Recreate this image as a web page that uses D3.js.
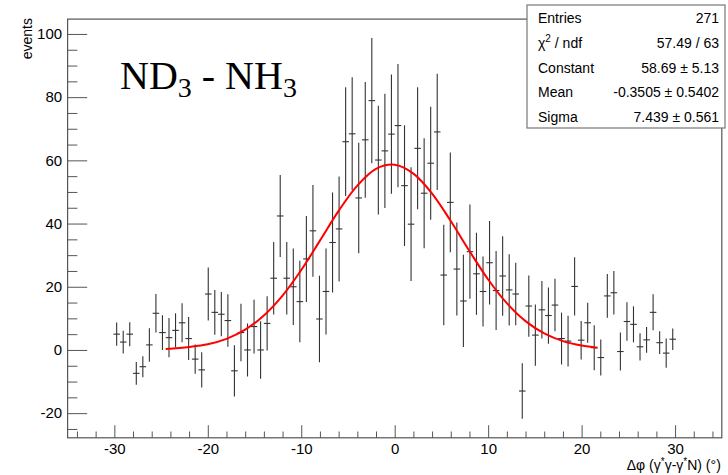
<!DOCTYPE html>
<html>
<head>
<meta charset="utf-8">
<script src="https://cdn.jsdelivr.net/npm/d3@7"></script>
<style>
  html, body { margin: 0; padding: 0; background: #fff; }
  svg { display: block; }
  text { font-family: "Liberation Sans", Arial, Helvetica, sans-serif; fill: #000; }
</style>
</head>
<body>
<svg id="chart" width="728" height="475"></svg>
<script>
// ---- data ----
const binCenters = [-29.75,-29.05,-28.35,-27.65,-26.95,-26.25,-25.55,-24.85,-24.15,-23.45,
  -22.75,-22.05,-21.35,-20.65,-19.95,-19.25,-18.55,-17.85,-17.15,-16.45,
  -15.75,-15.05,-14.35,-13.65,-12.95,-12.25,-11.55,-10.85,-10.15,-9.45,
  -8.75,-8.05,-7.35,-6.65,-5.95,-5.25,-4.55,-3.85,-3.15,-2.45,
  -1.75,-1.05,-0.35,0.35,1.05,1.75,2.45,3.15,3.85,4.55,
  5.25,5.95,6.65,7.35,8.05,8.75,9.45,10.15,10.85,11.55,
  12.25,12.95,13.65,14.35,15.05,15.75,16.45,17.15,17.85,18.55,
  19.25,19.95,20.65,21.35,22.05,22.75,23.45,24.15,24.85,25.55,
  26.25,26.95,27.65,28.35,29.05,29.75];
const binWidth = 0.7;
const events = [5.0,2.5,5.0,-7.4,-5.3,1.6,11.6,5.5,3.9,6.2,
  8.6,3.6,-2.9,-6.3,17.7,11.9,11.3,9.3,-6.6,5.5,
  0.0,7.4,0.0,8.4,22.7,42.4,22.7,20.0,15.3,28.8,
  37.7,9.8,18.5,34.0,38.3,65.9,68.4,48.1,66.5,78.9,
  60.1,63.0,68.3,71.0,52.0,39.8,63.8,49.6,59.1,69.0,
  23.7,46.7,25.6,15.5,31.1,24.1,18.5,27.6,18.8,23.4,
  19.0,17.7,-13.0,13.9,4.7,12.7,10.9,14.2,3.6,2.8,
  20.1,3.1,8.6,0.7,-2.4,17.1,18.1,-0.5,9.0,8.1,
  1.0,3.2,11.9,2.3,-1.0,3.4];
const errors = [3.7,3.6,3.8,3.6,3.3,5.3,6.1,5.5,6.2,5.4,
  6.2,6.8,4.6,5.6,8.4,7.1,7.0,8.3,8.1,9.1,
  8.4,8.5,9.1,8.6,11.5,13.0,11.5,12.1,12.9,13.6,
  14.5,13.7,13.6,15.8,16.6,17.2,17.9,17.5,18.3,19.8,
  17.2,18.1,18.9,19.5,19.1,18.0,19.3,17.4,17.9,18.4,
  15.9,15.8,14.7,14.6,14.9,13.0,11.1,13.2,12.5,12.6,
  11.3,9.9,8.8,9.7,9.7,9.1,8.9,8.3,8.2,8.0,
  9.2,6.1,6.3,7.1,5.7,6.9,6.9,6.0,6.1,5.7,
  4.3,4.1,5.7,3.6,4.6,3.4];
const fitX = [-24.5,-22,-20,-18,-16,-14,-12,-10,-8,-6,-4,-2,0,2,4,6,8,10,12,14,16,18,20,21.7];
const fitY = [0.30,0.94,1.80,3.52,6.42,10.9,17.2,25.3,34.6,44.0,52.0,57.3,58.6,55.8,49.5,40.8,31.3,22.3,14.8,9.13,5.24,2.80,1.39,0.73];

const xMajorTicks = [-30,-20,-10,0,10,20,30];
const xMinorTicks = [-34,-32,-28,-26,-24,-22,-18,-16,-14,-12,-8,-6,-4,-2,2,4,6,8,12,14,16,18,22,24,26,28,32,34];
const yMajorTicks = [-20,0,20,40,60,80,100];
const yMinorTicks = [-25,-15,-10,-5,5,10,15,25,30,35,45,50,55,65,70,75,85,90,95];

const statsRows = [
  ["Entries", "271"],
  ["chi2", "57.49 / 63"],
  ["Constant", "58.69 \u00b1 5.13"],
  ["Mean", "-0.3505 \u00b1 0.5402"],
  ["Sigma", "7.439 \u00b1 0.561"]
];

// ---- layout ----
const W = 728, H = 475;
const fx0 = 67.6, fx1 = 721.8, fy0 = 19.1, fy1 = 437.8;
const svg = d3.select("#chart");
svg.append("rect").attr("width", W).attr("height", H).attr("fill", "#fff");

const x = d3.scaleLinear().domain([-35, 35]).range([fx0, fx1]);
const y = d3.scaleLinear().domain([-27.8, 104.7]).range([fy1, fy0]);

const fmt = d => String(d);

function styleTicks(g) {
  g.select(".domain").remove();
  g.selectAll(".tick line").attr("stroke", "#555").attr("stroke-width", 1);
}
svg.append("g").attr("transform", `translate(0,${fy1})`)
  .call(d3.axisTop(x).tickValues(xMajorTicks).tickSize(12.6).tickFormat(""))
  .call(styleTicks);
svg.append("g").attr("transform", `translate(0,${fy1})`)
  .call(d3.axisTop(x).tickValues(xMinorTicks).tickSize(6.3).tickFormat(""))
  .call(styleTicks);
const xLab = svg.append("g").attr("transform", `translate(0,${fy1})`)
  .call(d3.axisBottom(x).tickValues(xMajorTicks).tickSize(0).tickPadding(5.5).tickFormat(fmt));
xLab.select(".domain").remove();
xLab.selectAll("text").attr("font-size", 15).attr("font-family", "Liberation Sans, Arial, sans-serif").attr("fill", "#000");

svg.append("g").attr("transform", `translate(${fx0},0)`)
  .call(d3.axisRight(y).tickValues(yMajorTicks).tickSize(19.6).tickFormat(""))
  .call(styleTicks);
svg.append("g").attr("transform", `translate(${fx0},0)`)
  .call(d3.axisRight(y).tickValues(yMinorTicks).tickSize(9.8).tickFormat(""))
  .call(styleTicks);
const yLab = svg.append("g").attr("transform", `translate(${fx0},0)`)
  .call(d3.axisLeft(y).tickValues(yMajorTicks).tickSize(0).tickPadding(5.5).tickFormat(fmt));
yLab.select(".domain").remove();
yLab.selectAll("text").attr("font-size", 15).attr("font-family", "Liberation Sans, Arial, sans-serif").attr("fill", "#000");

// frame
svg.append("rect").attr("x", fx0).attr("y", fy0).attr("width", fx1 - fx0).attr("height", fy1 - fy0)
  .attr("fill", "none").attr("stroke", "#555").attr("stroke-width", 1.2);

// data points with error bars
const pts = binCenters.map((c, i) => ({ c, v: events[i], e: errors[i] }));
const gp = svg.append("g").attr("stroke", "#333").attr("stroke-width", 1.1);
gp.selectAll("line.v").data(pts).join("line").attr("class", "v")
  .attr("x1", d => x(d.c)).attr("x2", d => x(d.c))
  .attr("y1", d => y(d.v + d.e)).attr("y2", d => y(d.v - d.e));
gp.selectAll("line.h").data(pts).join("line").attr("class", "h")
  .attr("x1", d => x(d.c - binWidth / 2)).attr("x2", d => x(d.c + binWidth / 2))
  .attr("y1", d => y(d.v)).attr("y2", d => y(d.v));

// fit curve
const fitPts = fitX.map((v, i) => [v, fitY[i]]);
svg.append("path").datum(fitPts)
  .attr("d", d3.line().x(d => x(d[0])).y(d => y(d[1])).curve(d3.curveCatmullRom))
  .attr("fill", "none").attr("stroke", "#f00").attr("stroke-width", 2);

// axis titles
svg.append("text").attr("transform", `translate(32,${fy0 - 1}) rotate(-90)`)
  .attr("text-anchor", "end").attr("font-size", 14).text("events");

const xt = svg.append("text").attr("x", fx1 - 1).attr("y", 470).attr("text-anchor", "end").attr("font-size", 14);
xt.append("tspan").text("\u0394\u03c6 (\u03b3");
xt.append("tspan").attr("dy", -5).attr("font-size", 10).text("*");
xt.append("tspan").attr("dy", 5).text("\u03b3-\u03b3");
xt.append("tspan").attr("dy", -5).attr("font-size", 10).text("*");
xt.append("tspan").attr("dy", 5).text("N) (\u00b0)");

// ND3 - NH3 label
const lab = svg.append("text").attr("x", 120).attr("y", 89)
  .style("font-family", "'Liberation Serif', 'Times New Roman', serif").attr("font-size", 40);
lab.append("tspan").text("ND");
lab.append("tspan").attr("dy", 8).attr("font-size", 28).text("3");
lab.append("tspan").attr("dy", -8).text(" - NH");
lab.append("tspan").attr("dy", 8).attr("font-size", 28).text("3");

// stats box
const bx0 = 527, bx1 = 725, by0 = 5, by1 = 128;
svg.append("rect").attr("x", bx0).attr("y", by0).attr("width", bx1 - bx0).attr("height", by1 - by0)
  .attr("fill", "#fff").attr("stroke", "#777").attr("stroke-width", 1.2);
const rowH = (by1 - by0) / statsRows.length;
statsRows.forEach((r, i) => {
  const by = by0 + rowH * (i + 0.5) + 6;
  const t = svg.append("text").attr("x", bx0 + 11).attr("y", by).attr("font-size", 14);
  if (r[0] === "chi2") {
    t.append("tspan").text("\u03c7");
    t.append("tspan").attr("dy", -6).attr("font-size", 10).text("2");
    t.append("tspan").attr("dy", 6).text(" / ndf");
  } else {
    t.text(r[0]);
  }
  svg.append("text").attr("x", bx1 - 6).attr("y", by).attr("text-anchor", "end").attr("font-size", 14).text(r[1]);
});
</script>
</body>
</html>
